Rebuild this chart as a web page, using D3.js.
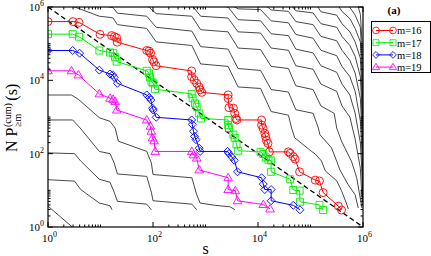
<!doctype html>
<html lang="en">
    <head>
        <meta charset="utf-8">
        <script src="https://d3js.org/d3.v7.min.js"></script>
        <style>
            body { margin: 0; background: #fff; }
            svg { display: block; }
        </style>
    </head>
    <body>
        <div id="viz"></div>
<script>

// tick values (log axes, labelled every two decades)
var majorTicks = [1, 1e2, 1e4, 1e6];
var majorLabels = ["0", "2", "4", "6"];
var minorMult = [2, 3, 4, 5, 6, 7, 8, 9, 10];

// coloured series, [s, N P(s)]
var names = ["m=16", "m=17", "m=18", "m=19"];

var m16 = [[1,4.0e5],[3.0,4.0e5],[3.9,3.8e5],[9.8,1.8e5],[16.3,1.66e5],[18.4,1.55e5],[20.3,1.45e5],[20.8,1.1e5],
    [76,6.5e4],[84,6.3e4],[90,5.5e4],[98,3.7e4],[104,3.2e4],[114,2.5e4],[545,1.8e4],[545,1.26e4],[610,1.02e4],
    [680,8300],[760,6500],[790,5500],[850,4700],[2700,4000],[2700,3200],[2800,1800],[3400,1740],[3600,1260],
    [3800,910],[3950,830],[11700,830],[11700,600],[12500,490],[13500,360],[14000,290],[14500,230],[15500,190],
    [16500,112],[38000,112],[41000,102],[47000,83],[51000,71],[62000,32],[123000,19],[148000,18],[174000,8.7],
    [340000,3.7],[390000,2.9]];

var m17 = [[1,1.82e5],[2.95,1.82e5],[3.9,1.55e5],[9.5,6.5e4],[15.2,5.75e4],[17.5,5.5e4],[18.9,4.27e4],[20.3,3.24e4],
    [76,1.82e4],[84,1.55e4],[88,1.2e4],[94,9100],[101,8300],[109,5750],[545,4270],[570,3240],[630,2340],[680,1900],
    [760,1260],[820,910],[2700,830],[2700,600],[2800,500],[3400,330],[3600,270],[3900,178],[4200,120],
    [11200,112],[12600,98],[14100,79],[15800,68],[17800,65],[17800,32],[41000,20],[47000,10.2],[62000,9.8],
    [63000,4.9],[148000,4.0],[174000,2.9]];

var m18 = [[1,6.5e4],[2.95,6.5e4],[4.0,5.5e4],[9.5,1.9e4],[15.2,1.48e4],[17,1.41e4],[18.2,1.2e4],[21,8300],
    [76,4000],[85,3400],[91,2900],[98,1740],[101,1550],[115,980],[545,830],[560,630],[590,410],[620,295],[660,240],
    [760,141],[790,115],[2630,115],[2800,100],[3160,81],[3550,66],[4070,32],[11700,22],[12600,14.8],[13500,10.5],
    [17800,10.5],[17800,5.2],[47000,3.9],[63000,2.95]];

var m19 = [[1,1.82e4],[2.8,1.82e4],[3.8,1.41e4],[9.5,4270],[15.2,3240],[17.4,3020],[19,2630],[20.4,1550],
    [76,830],[89,560],[93,410],[98,270],[105,224],[110,115],[550,115],[590,93],[680,76],[760,36],
    [2700,22],[2700,10.5],[3700,9.8],[4070,5.2],[12600,4.1],[17000,3.1]];

// black background curves for the other m
var blackCurves = [
    [[2.24,1.12e6],[2.95,1.05e6],[9.5,5.6e5],[15.1,5.2e5],[17.4,5.0e5],[21,3.3e5],[76,2.6e5],[115,1.12e5],[550,8.9e4],
     [810,2.8e4],[2690,2.4e4],[4170,6600],[11200,6000],[17800,1410],[38000,1120],[43600,500],[50100,270],[105000,115],
     [123000,98],[162000,63],[191000,34],[316000,18.2],[389000,9.8],[490000,4.2],[525000,3.1]],
    [[10,1.12e6],[17.4,9.55e5],[21,6.8e5],[76,5.6e5],[115,2.8e5],[550,2.2e5],[810,8.3e4],[2690,7.1e4],[4170,2.1e4],
     [11200,1.86e4],[17800,5600],[38000,4800],[52500,1580],[112000,1260],[141000,500],[151000,330],[251000,145],
     [316000,62],[363000,36],[525000,14.1],[708000,7.6],[813000,3.3]],
    [[76,1.12e6],[115,6.6e5],[550,5.6e5],[810,2.4e5],[2690,2.1e5],[4170,7.6e4],[11200,6.9e4],[17800,2.4e4],[38000,2.1e4],
     [52500,7100],[112000,5600],[158000,2000],[282000,1260],[316000,500],[389000,220],[603000,62],[759000,22],[955000,3.3]],
    [[550,1.12e6],[810,5.6e5],[2690,5.0e5],[4170,2.1e5],[11200,1.95e5],[17800,7.6e4],[38000,6.6e4],[52500,2.5e4],
     [112000,2.0e4],[158000,7900],[316000,5000],[398000,2000],[562000,1000],[708000,250],[891000,40],[970000,4.0]],
    [[1580,1.12e6],[2690,1e6],[4170,4.5e5],[11200,4.2e5],[17800,1.86e5],[38000,1.66e5],[52500,7.1e4],[112000,5.6e4],
     [158000,2.5e4],[316000,1.66e4],[398000,7900],[562000,4000],[708000,1260],[891000,200],[955000,30],[985000,5]],
    [[3160,1.12e6],[4170,8.9e5],[11200,8.5e5],[17800,4.2e5],[38000,3.7e5],[52500,1.78e5],[112000,1.41e5],[158000,6.6e4],
     [316000,4.7e4],[398000,2.4e4],[562000,1.26e4],[708000,5000],[891000,790],[955000,120],[990000,6]],
    [[12600,1.26e6],[17800,8.3e5],[38000,7.6e5],[52500,4.0e5],[112000,3.3e5],[158000,1.58e5],[316000,1.2e5],
     [398000,6.6e4],[562000,3.5e4],[708000,1.58e4],[891000,3200],[955000,400],[993000,7]],
    [[39800,1.26e6],[52500,7.9e5],[112000,6.9e5],[158000,3.5e5],[316000,2.8e5],[398000,1.58e5],[562000,8.9e4],
     [708000,4.5e4],[891000,1.26e4],[955000,1500],[995000,8]],
    [[126000,1.26e6],[158000,7.4e5],[316000,6.0e5],[398000,3.5e5],[562000,2.1e5],[708000,1.12e5],[891000,4.0e4],
     [955000,5000],[997000,9]],
    [[316000,1.26e6],[398000,7.6e5],[562000,4.8e5],[708000,2.6e5],[891000,1.12e5],[955000,1.5e4],[998000,10]],
    [[525000,1.12e6],[708000,6.0e5],[891000,2.8e5],[955000,4.0e4],[999000,12]],
    [[794000,1.12e6],[891000,6.3e5],[955000,1.2e5],[1e6,15]],
    // below m=19
    [[1,3980],[2.8,3980],[3.8,3020],[9.5,955],[15.2,760],[19,500],[21.9,219],[76,115],[93,56],[100,27],[550,22],
     [680,7.6],[790,4.5],[1510,3.9],[2950,3.55],[3630,2.95]],
    [[1,830],[2.95,830],[4.1,500],[9.5,115],[15.2,100],[18.2,56],[21,28],[76,24],[93,8.9],[100,5.2],[550,4.2],[680,2.95]],
    [[1,105],[3.2,100],[4.2,63],[9.5,20],[15.2,16.6],[18.2,8.9],[21,5],[76,4.2],[93,2.95]],
    [[1,19.5],[3.2,17.8],[4.2,10.5],[9.5,4.5],[15.2,3.8],[16.6,2.95]],
    [[1,3.7],[2.9,1]]
];

// dashed reference line N P = 10^6 / s
var guide = [[1, 1e6], [1e6, 1]];


var width = 431, height = 256;
var margin = {left: 48, right: 68, top: 7, bottom: 29};
var font = "'Liberation Serif', 'Times New Roman', 'DejaVu Serif', serif";

var x = d3.scaleLog().domain([1, 1e6]).range([margin.left, width - margin.right]);
var y = d3.scaleLog().domain([1, 1e6]).range([height - margin.bottom, margin.top]);

var series = [
    {name: names[0], data: m16, color: "#ff0000", shape: "circle"},
    {name: names[1], data: m17, color: "#00ee00", shape: "square"},
    {name: names[2], data: m18, color: "#0000ff", shape: "diamond"},
    {name: names[3], data: m19, color: "#ff00ff", shape: "triangle"}
];

function symbolPath(shape) {
    if (shape == "circle") return "M4,0A4,4 0 1,1 -4,0A4,4 0 1,1 4,0Z";
    if (shape == "square") return "M-3.5,-3.5H3.5V3.5H-3.5Z";
    if (shape == "diamond") return "M0,-4L4,0L0,4L-4,0Z";
    return "M0,-4.5L4.3,3L-4.3,3Z";
}

var svg = d3.select("#viz")
    .append("svg")
    .attr("width", width)
    .attr("height", height)
    .style("font-family", font);

svg.append("defs").append("clipPath")
    .attr("id", "plot-clip")
    .append("rect")
    .attr("x", x(1))
    .attr("y", y(1e6))
    .attr("width", x(1e6) - x(1))
    .attr("height", y(1) - y(1e6));

var line = d3.line()
    .x(d => x(d[0]))
    .y(d => y(d[1]));

var plot = svg.append("g").attr("clip-path", "url(#plot-clip)");

plot.append("g")
    .attr("fill", "none")
    .attr("stroke", "#333")
    .attr("stroke-width", 0.9)
    .selectAll("path")
    .data(blackCurves)
    .join("path")
    .attr("d", line);

plot.append("path")
    .datum(guide)
    .attr("fill", "none")
    .attr("stroke", "#000")
    .attr("stroke-width", 1.3)
    .attr("stroke-dasharray", "5,3")
    .attr("d", line);

var sg = plot.selectAll("g.series")
    .data(series)
    .join("g")
    .attr("class", "series");

sg.append("path")
    .attr("fill", "none")
    .attr("stroke", d => d.color)
    .attr("stroke-width", 1)
    .attr("d", d => line(d.data));

sg.each(function(d) {
    d3.select(this).selectAll("path.pt")
        .data(d.data)
        .join("path")
        .attr("class", "pt")
        .attr("transform", p => `translate(${x(p[0])},${y(p[1])})`)
        .attr("d", symbolPath(d.shape))
        .attr("fill", "none")
        .attr("stroke", d.color)
        .attr("stroke-width", 0.9);
});

// axes: ticks point inwards and are mirrored on top / right
var minorTicks = [];
majorTicks.slice(0, 3).forEach(t => minorMult.forEach(k => minorTicks.push(t * k)));

var axes = svg.append("g")
    .attr("stroke", "#000")
    .attr("stroke-width", 1);

function tickLines(vals, len) {
    axes.append("g").selectAll("line").data(vals).join("line")
        .attr("x1", d => x(d)).attr("x2", d => x(d))
        .attr("y1", y(1)).attr("y2", y(1) - len);
    axes.append("g").selectAll("line").data(vals).join("line")
        .attr("x1", d => x(d)).attr("x2", d => x(d))
        .attr("y1", y(1e6)).attr("y2", y(1e6) + len);
    axes.append("g").selectAll("line").data(vals).join("line")
        .attr("y1", d => y(d)).attr("y2", d => y(d))
        .attr("x1", x(1)).attr("x2", x(1) + len);
    axes.append("g").selectAll("line").data(vals).join("line")
        .attr("y1", d => y(d)).attr("y2", d => y(d))
        .attr("x1", x(1e6)).attr("x2", x(1e6) - len);
}
tickLines(majorTicks, 5);
tickLines(minorTicks, 2.5);

svg.append("rect")
    .attr("x", x(1))
    .attr("y", y(1e6))
    .attr("width", x(1e6) - x(1))
    .attr("height", y(1) - y(1e6))
    .attr("fill", "none")
    .attr("stroke", "#000")
    .attr("stroke-width", 1.2);

// tick labels 10^k
var xl = svg.append("g").selectAll("text")
    .data(majorTicks)
    .join("text")
    .attr("x", d => x(d) - 6)
    .attr("y", y(1) + 15)
    .attr("font-size", 11);
xl.append("tspan").text("10");
xl.append("tspan").attr("dy", -5).attr("font-size", 8).text((d, i) => majorLabels[i]);

var yl = svg.append("g").selectAll("text")
    .data(majorTicks)
    .join("text")
    .attr("x", x(1) - 19)
    .attr("y", d => y(d) + 4)
    .attr("font-size", 11);
yl.append("tspan").text("10");
yl.append("tspan").attr("dy", -5).attr("font-size", 8).text((d, i) => majorLabels[i]);

// axis titles
svg.append("text")
    .attr("x", (x(1) + x(1e6)) / 2)
    .attr("y", 254)
    .attr("text-anchor", "middle")
    .attr("font-size", 16)
    .text("s");

var yt = svg.append("g")
    .attr("transform", `translate(17,${(y(1) + y(1e6)) / 2}) rotate(-90)`);
var t1 = yt.append("text").attr("x", -35).attr("y", 0).attr("font-size", 16).text("N P");
var w1 = t1.node().getComputedTextLength();
var t2 = yt.append("text").attr("x", -35 + w1 + 0.5).attr("y", -6).attr("font-size", 10).text("(cum)");
var t3 = yt.append("text").attr("x", -35 + w1 + 0.5).attr("y", 4).attr("font-size", 10).text("\u2265m");
var w2 = Math.max(t2.node().getComputedTextLength(), t3.node().getComputedTextLength());
yt.append("text").attr("x", -35 + w1 + w2 + 3).attr("y", 0).attr("font-size", 16).text("(s)");

// panel label
svg.append("text")
    .attr("x", 394)
    .attr("y", 14)
    .attr("text-anchor", "middle")
    .attr("font-size", 11)
    .attr("font-weight", "bold")
    .text("(a)");

// legend
var legend = svg.append("g");
legend.append("rect")
    .attr("x", 371.5)
    .attr("y", 21.5)
    .attr("width", 59)
    .attr("height", 51)
    .attr("fill", "#fff")
    .attr("stroke", "#000")
    .attr("stroke-width", 1);

var le = legend.selectAll("g.entry")
    .data(series)
    .join("g")
    .attr("class", "entry")
    .attr("transform", (d, i) => `translate(0,${30.5 + i * 12.2})`);

le.append("line")
    .attr("x1", 376).attr("x2", 393)
    .attr("stroke", d => d.color)
    .attr("stroke-width", 1);
le.each(function(d) {
    d3.select(this).selectAll("path").data([376, 393]).join("path")
        .attr("transform", px => `translate(${px},0) scale(0.85)`)
        .attr("d", symbolPath(d.shape))
        .attr("fill", "none")
        .attr("stroke", d.color)
        .attr("stroke-width", 1);
});
le.append("text")
    .attr("x", 397)
    .attr("y", 3.8)
    .attr("font-size", 10.5)
    .text(d => d.name);

</script>
    </body>
</html>
